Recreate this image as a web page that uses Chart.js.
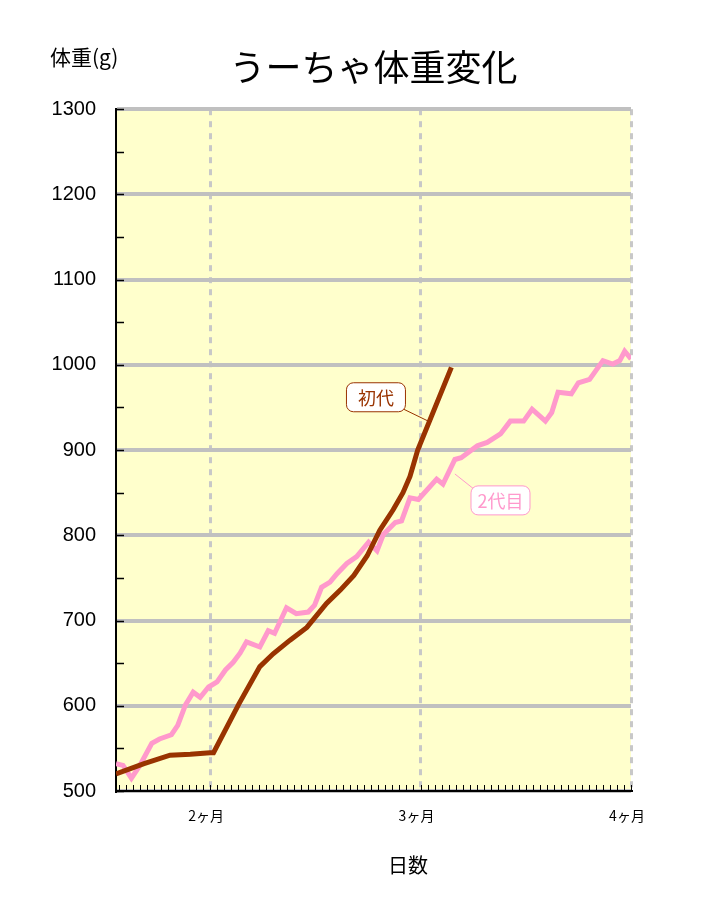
<!DOCTYPE html>
<html>
<head>
<meta charset="utf-8">
<script src="https://cdn.jsdelivr.net/npm/chart.js@4.4.1/dist/chart.umd.min.js"></script>
<style>
  html, body { margin: 0; padding: 0; background: #ffffff; }
  canvas { display: block; }
</style>
</head>
<body>
<canvas id="weightChart" width="709" height="900"></canvas>
<script>
// ===== データ =====
const monthDays = [60, 90, 120];                         // 目盛り位置（日数）
const monthLabels = ["2ヶ月", "3ヶ月", "4ヶ月"];          // 目盛りラベル

// 初代
const firstDays    = [46.6, 50.6, 54.3, 57.2, 60.0, 60.5, 64.1, 67.1, 69.0, 71.4, 73.8, 76.6, 78.6, 80.5, 82.4, 84.2, 86.1, 87.5, 88.5, 89.6, 94.4];
const firstWeights = [520, 532, 542, 543, 545, 545, 602, 646, 661, 677, 692, 720, 736, 753, 776, 806, 830, 850, 869, 900, 997];

// 2代目
const secondDays    = [46.6, 47.6, 48.8, 50.0, 51.7, 52.8, 54.5, 55.4, 56.5, 57.6, 58.6, 59.8, 61.0, 62.2, 63.3, 64.3, 65.2, 67.1, 68.3, 69.2,
                       70.9, 72.3, 74.0, 74.9, 75.9, 77.1, 78.1, 79.5, 80.9, 82.6, 83.8, 84.7, 86.4, 87.3, 88.5, 89.7, 92.3, 93.2, 94.9, 95.8,
                       98.1, 99.5, 101.4, 102.8, 104.7, 105.9, 107.8, 108.7, 109.6, 111.5, 112.5, 114.1, 116.0, 117.4, 118.4, 119.1, 120.0];
const secondWeights = [532, 530, 515, 530, 556, 561, 566, 577, 601, 616, 610, 622, 628, 642, 651, 662, 675, 669, 688, 685,
                       715, 708, 710, 718, 739, 745, 755, 767, 775, 792, 782, 801, 815, 817, 844, 842, 866, 860, 889, 891,
                       905, 909, 919, 934, 934, 948, 934, 944, 968, 966, 979, 983, 1005, 1001, 1005, 1016, 1007];

const BROWN = "#993300";
const PINK = "#ff99cc";
const JP_FONT = "'Noto Sans CJK JP', 'Noto Sans', sans-serif";

const toXY = (xs, ys) => xs.map((x, i) => ({ x, y: ys[i] }));

// ===== 描画補助プラグイン =====
const decorPlugin = {
  id: "decor",
  beforeDraw(chart) {                                    // グラフエリアの背景
    const { ctx, chartArea: a } = chart;
    ctx.save();
    ctx.fillStyle = "#ffffcc";
    ctx.fillRect(a.left, a.top, a.right - a.left, a.bottom - a.top);
    ctx.restore();
  },
  afterDatasetsDraw(chart) {
    const { ctx, chartArea: a, scales: { x, y } } = chart;
    ctx.save();
    // 内向きの小目盛り（Y: 50g毎、X: 1日毎）
    ctx.strokeStyle = "#000";
    ctx.lineWidth = 1.5;
    ctx.beginPath();
    for (let v = y.min; v <= y.max; v += 50) {
      const py = Math.round(y.getPixelForValue(v)) + 0.5;
      ctx.moveTo(a.left, py);
      ctx.lineTo(a.left + 8, py);
    }
    ctx.stroke();
    ctx.lineWidth = 1;
    ctx.beginPath();
    for (let d = Math.ceil(x.min); d <= x.max; d++) {
      const px = Math.round(x.getPixelForValue(d)) + 0.5;
      ctx.moveTo(px, a.bottom);
      ctx.lineTo(px, a.bottom - 6);
    }
    ctx.stroke();

    // 吹き出しラベル
    const callout = (text, color, cx, cy, lx1, ly1, lx2, ly2) => {
      const bx = x.getPixelForValue(cx), by = y.getPixelForValue(cy);
      ctx.strokeStyle = color;
      ctx.lineWidth = 1;
      ctx.beginPath();
      ctx.moveTo(x.getPixelForValue(lx1), y.getPixelForValue(ly1));
      ctx.lineTo(x.getPixelForValue(lx2), y.getPixelForValue(ly2));
      ctx.stroke();
      const w = 59, h = 29;
      ctx.beginPath();
      ctx.roundRect(bx - w / 2, by - h / 2, w, h, 7);
      ctx.fillStyle = "#ffffff";
      ctx.fill();
      ctx.stroke();
      ctx.fillStyle = color;
      ctx.font = "18px " + JP_FONT;
      ctx.textAlign = "center";
      ctx.textBaseline = "middle";
      ctx.fillText(text, bx, by + 1);
    };
    callout("初代", BROWN, 83.65, 962, 87.6, 948, 91.1, 934);
    callout("2代目", PINK, 101.4, 841, 97.5, 855, 94.9, 872);

    // 軸タイトル
    ctx.fillStyle = "#000";
    ctx.textBaseline = "middle";
    ctx.textAlign = "left";
    ctx.font = "21px " + JP_FONT;
    ctx.fillText("体重(g)", 50, 57);
    ctx.textAlign = "center";
    ctx.font = "20px " + JP_FONT;
    ctx.fillText("日数", 408, 865);
    ctx.restore();
  }
};

// ===== グラフ =====
new Chart(document.getElementById("weightChart"), {
  type: "line",
  data: {
    datasets: [
      {
        label: "初代",
        data: toXY(firstDays, firstWeights),
        borderColor: BROWN,
        borderWidth: 5,
        pointRadius: 0,
        tension: 0
      },
      {
        label: "2代目",
        data: toXY(secondDays, secondWeights),
        borderColor: PINK,
        borderWidth: 5,
        pointRadius: 0,
        tension: 0
      }
    ]
  },
  options: {
    responsive: false,
    animation: false,
    layout: { padding: { left: 0, right: 78, top: 0, bottom: 0 } },
    plugins: {
      legend: { display: false },
      tooltip: { enabled: false },
      title: {
        display: true,
        text: "うーちゃ体重変化",
        fullSize: false,
        color: "#000",
        font: { family: JP_FONT, size: 36, weight: "normal", lineHeight: 1.2 },
        padding: { top: 46, bottom: 20 }
      }
    },
    scales: {
      x: {
        type: "linear",
        min: 46.6,
        max: 120,
        afterBuildTicks: (s) => { s.ticks = monthDays.map(v => ({ value: v })); },
        afterFit: (s) => { s.height = 109; },
        ticks: {
          padding: 16,
          labelOffset: -4,
          color: "#000",
          font: { family: JP_FONT, size: 14 },
          callback: (v) => monthLabels[monthDays.indexOf(v)] ?? ""
        },
        grid: { color: "#c8c8c8", lineWidth: 3, drawTicks: false },
        border: { color: "#000", width: 2, dash: [6, 6] }
      },
      y: {
        min: 500,
        max: 1300,
        afterFit: (s) => { s.width = 116; },
        ticks: {
          stepSize: 100,
          padding: 20,
          color: "#000",
          font: { family: "'Liberation Sans', Arial, sans-serif", size: 20 },
          callback: (v) => String(v)
        },
        grid: { color: "#c0c0c0", lineWidth: 4, drawTicks: false },
        border: { color: "#000", width: 2 }
      }
    }
  },
  plugins: [decorPlugin]
});
</script>
</body>
</html>
